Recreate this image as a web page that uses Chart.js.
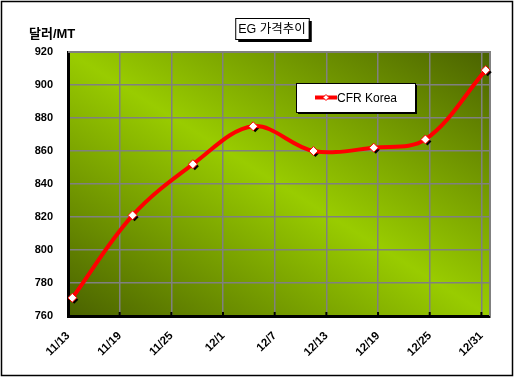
<!DOCTYPE html>
<html lang="ko">
<head>
    <meta charset="UTF-8">
    <title>EG 가격추이</title>
    <script src="https://cdn.jsdelivr.net/npm/chart.js"></script>
    <style>
        body { margin: 0; background: #fff; }
        canvas { display: block; }
    </style>
</head>
<body>
    <canvas id="egChart" width="514" height="377"></canvas>
    <script>
        const chartTitle = 'EG 가격추이';
        const yTitle = '달러/MT';
        const seriesName = 'CFR Korea';
        const pointDates = ['11/13', '11/20', '11/27', '12/4', '12/11', '12/18', '12/24', '12/31'];
        const prices = [771, 821, 852, 875, 860, 862, 867, 909];
        const tickLabels = ['11/13', '11/19', '11/25', '12/1', '12/7', '12/13', '12/19', '12/25', '12/31'];
        const yMin = 760, yMax = 920, yStep = 20;

        const FONT = "'Liberation Sans', 'Noto Sans CJK KR', sans-serif";

        // days since the first tick label
        function dayOf(label) {
            const [m, d] = label.split('/').map(Number);
            const [m0, d0] = tickLabels[0].split('/').map(Number);
            return (Date.UTC(2000, m - 1, d) - Date.UTC(2000, m0 - 1, d0)) / 86400000;
        }
        const lastDay = dayOf(tickLabels[tickLabels.length - 1]) + 1;

        // excel date axis puts each point in the middle of its day
        const points = pointDates.map((d, i) => ({ x: dayOf(d) + 0.5, y: prices[i] }));

        const decor = {
            id: 'decor',
            beforeDraw(chart) {
                const { ctx, chartArea: a } = chart;
                const cx = (a.left + a.right) / 2, cy = (a.top + a.bottom) / 2;
                const w = a.right - a.left, h = a.bottom - a.top;
                const len = Math.hypot(w, h);
                const nx = h / len, ny = -w / len;
                const half = (w / 2 * h + h / 2 * w) / len;
                const g = ctx.createLinearGradient(cx - nx * half, cy - ny * half, cx + nx * half, cy + ny * half);
                g.addColorStop(0, '#4a6200');
                g.addColorStop(0.5, '#99cc00');
                g.addColorStop(1, '#4a6200');
                ctx.save();
                ctx.fillStyle = g;
                ctx.fillRect(a.left, a.top, w, h);
                ctx.restore();
            },
            beforeDatasetsDraw(chart) {
                const { ctx, chartArea: a } = chart;
                ctx.save();
                ctx.strokeStyle = '#808080';
                ctx.lineWidth = 2;
                ctx.beginPath();
                ctx.moveTo(a.left, a.top);
                ctx.lineTo(a.right, a.top);
                ctx.lineTo(a.right, a.bottom);
                ctx.stroke();
                // black tick stubs at the bottom of each vertical gridline
                const xs = chart.scales.x;
                ctx.strokeStyle = '#000';
                ctx.lineWidth = 2;
                xs.ticks.forEach(t => {
                    const px = xs.getPixelForValue(t.value);
                    ctx.beginPath();
                    ctx.moveTo(px, a.bottom);
                    ctx.lineTo(px, a.bottom - 4);
                    ctx.stroke();
                });
                // marker shadows
                ctx.fillStyle = '#000';
                chart.getDatasetMeta(0).data.forEach(p => {
                    const r = 4;
                    ctx.beginPath();
                    ctx.moveTo(p.x + 2, p.y + 2 - r);
                    ctx.lineTo(p.x + 2 + r, p.y + 2);
                    ctx.lineTo(p.x + 2, p.y + 2 + r);
                    ctx.lineTo(p.x + 2 - r, p.y + 2);
                    ctx.closePath();
                    ctx.fill();
                });
                ctx.restore();
            },
            afterDraw(chart) {
                const { ctx } = chart;
                ctx.save();
                // outer frame
                ctx.strokeStyle = '#000';
                ctx.lineWidth = 1.5;
                ctx.strokeRect(1.5, 1.5, 511, 374);

                // chart title in a shadowed box
                ctx.font = '12.5px ' + FONT;
                const tw = ctx.measureText(chartTitle).width;
                const bx = 272 - tw / 2 - 3, by = 18, bw = tw + 6, bh = 21;
                ctx.fillStyle = '#000';
                ctx.fillRect(bx + 3, by + 3, bw, bh);
                ctx.fillStyle = '#fff';
                ctx.fillRect(bx, by, bw, bh);
                ctx.strokeStyle = '#000';
                ctx.lineWidth = 1;
                ctx.strokeRect(bx + 0.5, by + 0.5, bw, bh);
                ctx.fillStyle = '#000';
                ctx.textBaseline = 'middle';
                ctx.textAlign = 'center';
                ctx.fillText(chartTitle, 272, by + bh / 2 + 1);

                // y axis title
                ctx.font = 'bold 13px ' + FONT;
                ctx.textAlign = 'left';
                ctx.fillText(yTitle, 29, 34);

                // legend
                const lx = 296, ly = 83, lw = 119, lh = 29;
                ctx.fillStyle = '#000';
                ctx.fillRect(lx + 2, ly + 2, lw, lh);
                ctx.fillStyle = '#fff';
                ctx.fillRect(lx, ly, lw, lh);
                ctx.strokeStyle = '#000';
                ctx.lineWidth = 1;
                ctx.strokeRect(lx + 0.5, ly + 0.5, lw, lh);
                const my = ly + lh / 2;
                ctx.strokeStyle = '#ff0000';
                ctx.lineWidth = 4;
                ctx.beginPath();
                ctx.moveTo(315, my);
                ctx.lineTo(337, my);
                ctx.stroke();
                ctx.fillStyle = '#fff';
                ctx.strokeStyle = '#ff0000';
                ctx.lineWidth = 1;
                ctx.beginPath();
                ctx.moveTo(326, my - 3);
                ctx.lineTo(329, my);
                ctx.lineTo(326, my + 3);
                ctx.lineTo(323, my);
                ctx.closePath();
                ctx.fill();
                ctx.stroke();
                ctx.fillStyle = '#000';
                ctx.font = '12px ' + FONT;
                ctx.fillText(chart.data.datasets[0].label, 337, my + 1);
                ctx.restore();
            }
        };

        new Chart(document.getElementById('egChart'), {
            type: 'line',
            data: {
                datasets: [{
                    label: seriesName,
                    data: points,
                    borderColor: '#ff0000',
                    borderWidth: 4,
                    tension: 0.35,
                    pointStyle: 'rectRot',
                    pointRadius: 4.5,
                    pointBackgroundColor: '#ffffff',
                    pointBorderColor: '#ff0000',
                    pointBorderWidth: 1
                }]
            },
            options: {
                responsive: false,
                devicePixelRatio: 1,
                animation: false,
                layout: { padding: { left: 28, right: 24, top: 52, bottom: 11 } },
                plugins: {
                    legend: { display: false },
                    title: { display: false },
                    tooltip: { enabled: false }
                },
                scales: {
                    x: {
                        type: 'linear',
                        min: 0,
                        max: lastDay,
                        afterBuildTicks: axis => {
                            axis.ticks = tickLabels.map(l => ({ value: dayOf(l) }));
                        },
                        afterFit: s => { s.height = 50; },
                        ticks: {
                            autoSkip: false,
                            maxRotation: 45,
                            minRotation: 45,
                            padding: 13,
                            color: '#000',
                            font: { family: FONT, size: 11.5, weight: 'bold' },
                            callback: v => tickLabels.find(l => dayOf(l) === v) || ''
                        },
                        grid: { color: '#808080', lineWidth: 1.5, drawTicks: false },
                        border: { color: '#000', width: 3 }
                    },
                    y: {
                        min: yMin,
                        max: yMax,
                        afterFit: s => { s.width = 40; },
                        ticks: {
                            stepSize: yStep,
                            padding: 15,
                            color: '#000',
                            font: { family: FONT, size: 11, weight: 'bold' }
                        },
                        grid: { color: '#808080', lineWidth: 1.5, drawTicks: false },
                        border: { color: '#000', width: 3 }
                    }
                }
            },
            plugins: [decor]
        });
    </script>
</body>
</html>
